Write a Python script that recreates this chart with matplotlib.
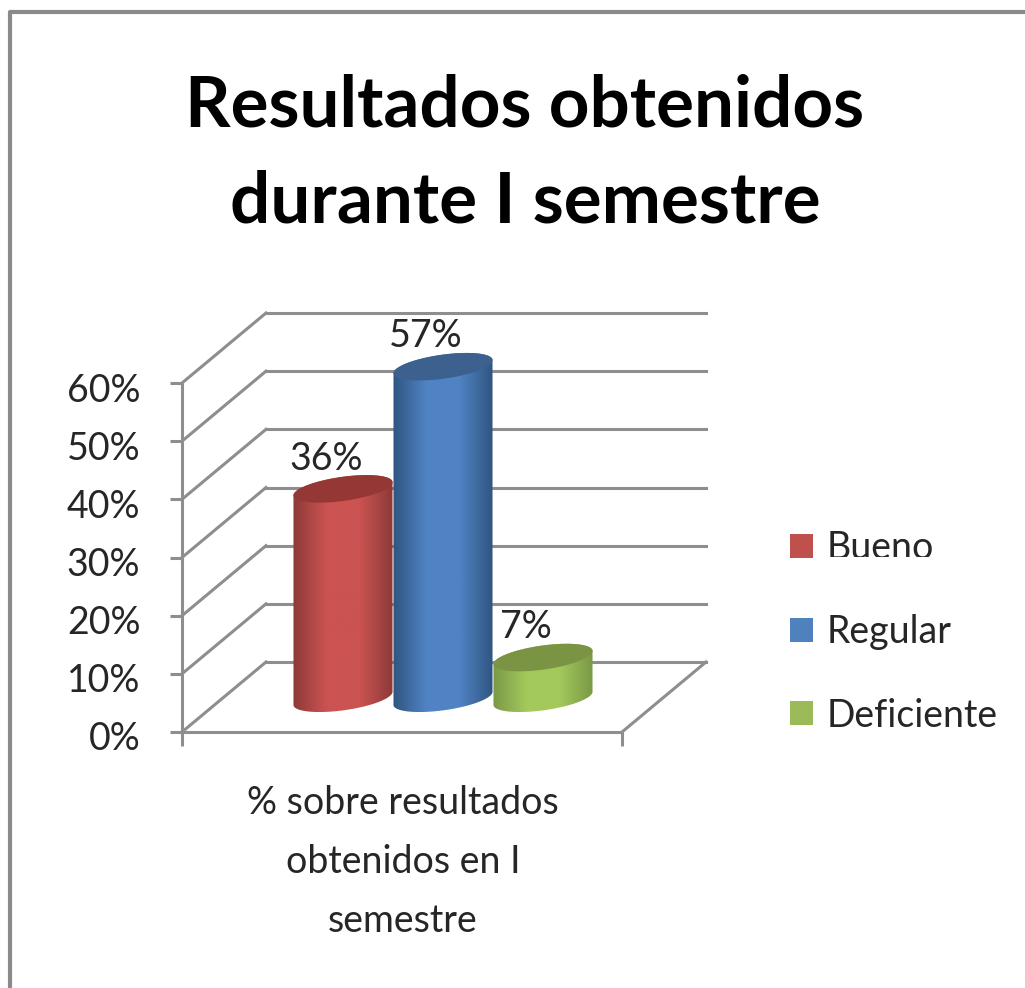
"""Resultados obtenidos durante I semestre: 3D-look cylinder chart."""

import matplotlib

matplotlib.use("Agg")

import numpy as np
from matplotlib import pyplot as plt
from matplotlib.colors import LinearSegmentedColormap
from matplotlib.lines import Line2D
from matplotlib.patches import Patch, Polygon
from matplotlib.transforms import Bbox, ScaledTranslation

TITLE = "Resultados obtenidos\ndurante I semestre"
CATEGORY_LABEL = "% sobre resultados\nobtenidos en I\nsemestre"
SERIES = ["Bueno", "Regular", "Deficiente"]
VALUES = [36, 57, 7]
Y_TICKS = [0, 10, 20, 30, 40, 50, 60]

EDGE_COLORS = ["#8c3a38", "#2f5581", "#7a9846"]
MID_COLORS = ["#cb5351", "#5083c3", "#a3c95c"]
TOP_COLORS = ["#953735", "#3d618e", "#7a9444"]
LEGEND_COLORS = ["#c0504d", "#4f81bd", "#9bbb59"]
GRID_COLOR = "#8e8e8e"
TEXT_COLOR = "#262626"

W, H = 1025, 988
PX_LEFT, PX_RIGHT, PX_ZERO, PX_TOP = 182, 622, 732, 383
PX_PER_PCT = (PX_ZERO - PX_TOP) / 60
DEPTH_X, DEPTH_Y = 84, 70 / PX_PER_PCT
FLOOR = 5.8
RADIUS, MINOR, TILT = 50, 12, np.radians(8)

plt.rcParams["font.family"] = ["Lato", "DejaVu Sans"]

fig = plt.figure(figsize=(W / 100, H / 100), dpi=100)
ax = fig.add_axes(
    [PX_LEFT / W, 1 - PX_ZERO / H, (PX_RIGHT - PX_LEFT) / W, (PX_ZERO - PX_TOP) / H]
)


def ellipse(cx, cy, start=0.0, stop=2 * np.pi):
    """Tilted ellipse outline, x in pixels and y in percent units."""
    t = np.linspace(start, stop, 120)
    dx = RADIUS * np.cos(t) * np.cos(TILT) - MINOR * np.sin(t) * np.sin(TILT)
    dy = RADIUS * np.cos(t) * np.sin(TILT) + MINOR * np.sin(t) * np.cos(TILT)
    return np.column_stack([cx + dx, cy + dy / PX_PER_PCT])


# walls and floor
for tick in Y_TICKS:
    ax.plot([0, DEPTH_X], [tick, tick + DEPTH_Y], color=GRID_COLOR, lw=2.2, clip_on=False, zorder=1)
    ax.plot(
        [DEPTH_X, PX_RIGHT - PX_LEFT + DEPTH_X],
        [tick + DEPTH_Y, tick + DEPTH_Y],
        color=GRID_COLOR,
        lw=2.2,
        clip_on=False,
        zorder=1,
    )
ax.plot(
    [PX_RIGHT - PX_LEFT, PX_RIGHT - PX_LEFT + DEPTH_X],
    [0, DEPTH_Y],
    color=GRID_COLOR,
    lw=2.2,
    clip_on=False,
    zorder=1,
)

# cylinders
gradient = np.linspace(0, 1, 256).reshape(1, -1)
for i, value in enumerate(VALUES):
    cx = 161 + i * 100
    top = FLOOR + value
    cmap = LinearSegmentedColormap.from_list(
        f"cyl{i}", [EDGE_COLORS[i], MID_COLORS[i], MID_COLORS[i], EDGE_COLORS[i]]
    )
    body = np.vstack([ellipse(cx, top, 0, np.pi), ellipse(cx, FLOOR, np.pi, 2 * np.pi)])
    outline = Polygon(body, transform=ax.transData)
    im = ax.imshow(
        gradient,
        extent=[cx - RADIUS, cx + RADIUS, FLOOR - 5, top + 5],
        aspect="auto",
        cmap=cmap,
        zorder=2 + i,
    )
    im.set_clip_box(fig.bbox)
    im.set_clip_path(outline)
    ax.add_patch(
        Polygon(ellipse(cx, top), facecolor=TOP_COLORS[i], edgecolor="none", clip_on=False, zorder=2 + i)
    )
    ax.text(
        cx - 17,
        top + 5.2,
        f"{value}%",
        fontsize=27,
        color=TEXT_COLOR,
        ha="center",
        va="center",
        zorder=6,
    )

ax.set_xlim(0, PX_RIGHT - PX_LEFT)
ax.set_ylim(0, 60)
ax.set_yticks(Y_TICKS)
ax.set_yticklabels([f"{t}%" for t in Y_TICKS], fontsize=27, color=TEXT_COLOR)
ax.set_xticks([0, PX_RIGHT - PX_LEFT])
ax.set_xticklabels([])
ax.tick_params(axis="y", length=9, width=2.2, color=GRID_COLOR, pad=21)
ax.tick_params(axis="x", length=10, width=2.2, color=GRID_COLOR)
ax.patch.set_visible(False)
for side in ["top", "right"]:
    ax.spines[side].set_visible(False)
for side in ["left", "bottom"]:
    ax.spines[side].set_color(GRID_COLOR)
    ax.spines[side].set_linewidth(2.2)

# tick labels sit a little under their ticks in the source image
label_shift = ScaledTranslation(0, -4 / 100, fig.dpi_scale_trans)
for label in ax.get_yticklabels():
    label.set_transform(label.get_transform() + label_shift)

fig.text(
    403 / W,
    1 - 862 / H,
    CATEGORY_LABEL,
    fontsize=27,
    color=TEXT_COLOR,
    ha="center",
    va="center",
    linespacing=1.78,
)

fig.text(
    525 / W,
    1 - 154 / H,
    TITLE,
    fontsize=51,
    fontweight="bold",
    color="#000000",
    ha="center",
    va="center",
    linespacing=1.58,
)

legend = fig.legend(
    handles=[Patch(facecolor=c, edgecolor="none") for c in LEGEND_COLORS],
    labels=SERIES,
    loc="center left",
    bbox_to_anchor=(790 / W, 1 - 632 / H),
    frameon=False,
    fontsize=27,
    labelcolor=TEXT_COLOR,
    handlelength=0.61,
    handleheight=0.61,
    handletextpad=0.37,
    labelspacing=1.27,
    borderpad=0,
    borderaxespad=0,
)
# the first legend entry is cut off at its lower edge in the source image
legend.get_texts()[0].set_clip_box(Bbox([[0, H - 557], [W, H]]))
legend.get_texts()[0].set_clip_on(True)

# outer frame, left and top sides only
frame = Line2D(
    [10 / W, 10 / W, 1],
    [0, 1 - 12 / H, 1 - 12 / H],
    transform=fig.transFigure,
    color="#8a8a8a",
    lw=3,
)
fig.add_artist(frame)

fig.savefig("out.png", dpi=100)
